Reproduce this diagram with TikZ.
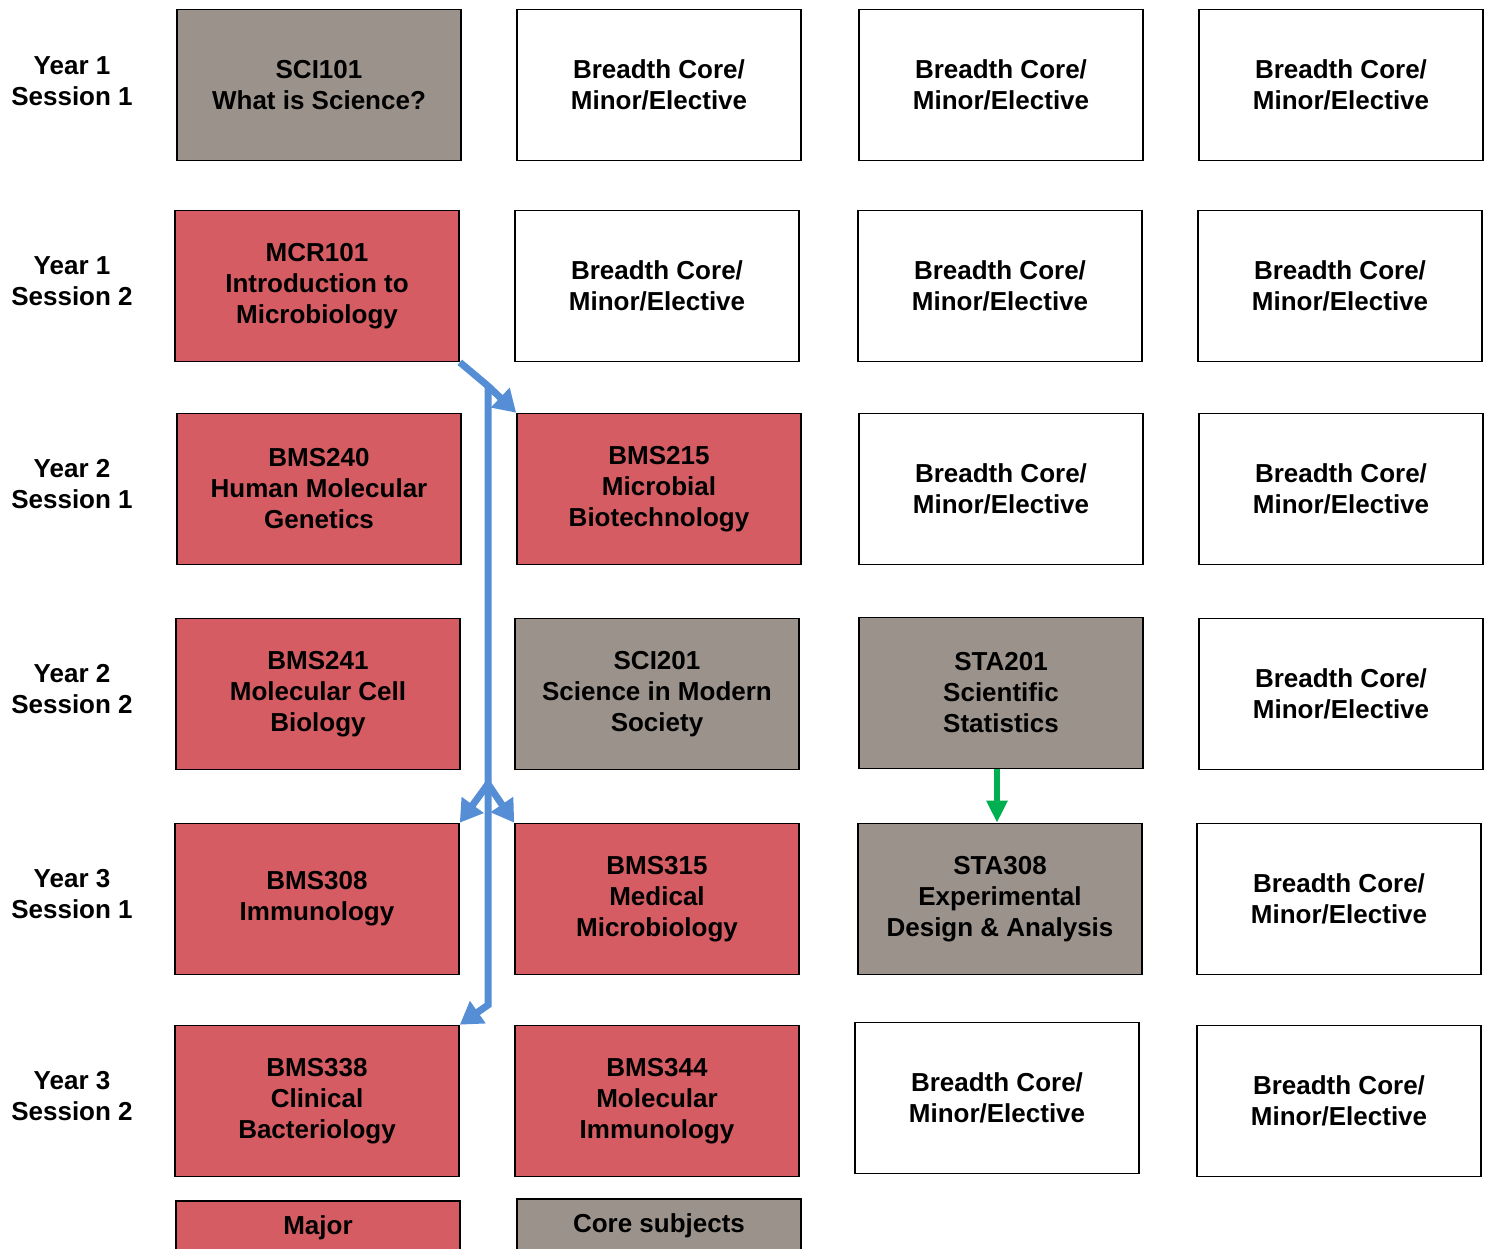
\documentclass[tikz,border=0pt]{standalone}
\usepackage{fontspec}
\setmainfont{Liberation Sans}
\usetikzlibrary{arrows.meta, positioning}
\definecolor{majorred}{RGB}{212,92,98}
\definecolor{coregray}{RGB}{155,147,139}
\definecolor{linkblue}{RGB}{85,142,213}
\definecolor{linkgreen}{RGB}{0,176,80}
\tikzset{rowlabel/.style = {
  align=center,
  font=\bfseries\fontsize{26}{31}\selectfont
  }}
\tikzset{subject/.style = {
  % Rectangle:
  rectangle,
  draw=black, line width=1.6pt,
  minimum width=284pt, minimum height=151pt,
  inner sep=0pt,
  % Text
  align=center,
  font=\bfseries\fontsize{26}{31}\selectfont
  }}
\tikzset{major/.style = {
  subject,
  fill=majorred
  }}
\tikzset{core/.style = {
  subject,
  fill=coregray
  }}
\tikzset{legend/.style = {
  subject,
  minimum height=54pt
  }}
\tikzset{prereq/.style = {
  -{Triangle[width=26pt,length=22pt]},
  line width=7pt,
  draw=linkblue
  }}
\tikzset{seq/.style = {
  -{Triangle[width=20pt,length=22pt]},
  line width=6pt,
  draw=linkgreen
  }}

\begin{document}
\begin{tikzpicture}[x=1pt, y=-1pt]
\useasboundingbox (0,0) rectangle (1488,1249);

% ROW LABELS
\node (y1s1) [rowlabel] at (72,81) {Year 1\\Session 1};
\node (y1s2) [rowlabel] at (72,281) {Year 1\\Session 2};
\node (y2s1) [rowlabel] at (72,484) {Year 2\\Session 1};
\node (y2s2) [rowlabel] at (72,689) {Year 2\\Session 2};
\node (y3s1) [rowlabel] at (72,894) {Year 3\\Session 1};
\node (y3s2) [rowlabel] at (72,1096) {Year 3\\Session 2};

% YEAR 1 SESSION 1
\node (sci101) [core] at (319,85) {SCI101\\What is Science?};
\node (bc11) [subject] at (659,85) {Breadth Core/\\Minor/Elective};
\node (bc12) [subject] at (1001,85) {Breadth Core/\\Minor/Elective};
\node (bc13) [subject] at (1341,85) {Breadth Core/\\Minor/Elective};

% YEAR 1 SESSION 2
\node (mcr101) [major] at (317,286) {MCR101\\Introduction to\\Microbiology};
\node (bc21) [subject] at (657,286) {Breadth Core/\\Minor/Elective};
\node (bc22) [subject] at (1000,286) {Breadth Core/\\Minor/Elective};
\node (bc23) [subject] at (1340,286) {Breadth Core/\\Minor/Elective};

% YEAR 2 SESSION 1
\node (bms240) [major] at (319,489) {BMS240\\Human Molecular\\Genetics};
\node (bms215) [major] at (659,489) {BMS215\\Microbial\\Biotechnology};
\node (bc31) [subject] at (1001,489) {Breadth Core/\\Minor/Elective};
\node (bc32) [subject] at (1341,489) {Breadth Core/\\Minor/Elective};

% YEAR 2 SESSION 2
\node (bms241) [major] at (318,694) {BMS241\\Molecular Cell\\Biology};
\node (sci201) [core] at (657,694) {SCI201\\Science in Modern\\Society};
\node (sta201) [core] at (1001,693) {STA201\\Scientific\\Statistics};
\node (bc41) [subject] at (1341,694) {Breadth Core/\\Minor/Elective};

% YEAR 3 SESSION 1
\node (bms308) [major] at (317,899) {BMS308\\Immunology};
\node (bms315) [major] at (657,899) {BMS315\\Medical\\Microbiology};
\node (sta308) [core] at (1000,899) {STA308\\Experimental\\Design \& Analysis};
\node (bc51) [subject] at (1339,899) {Breadth Core/\\Minor/Elective};

% YEAR 3 SESSION 2
\node (bms338) [major] at (317,1101) {BMS338\\Clinical\\Bacteriology};
\node (bms344) [major] at (657,1101) {BMS344\\Molecular\\Immunology};
\node (bc61) [subject] at (997,1098) {Breadth Core/\\Minor/Elective};
\node (bc62) [subject] at (1339,1101) {Breadth Core/\\Minor/Elective};

% LEGEND
\node (keymajor) [legend, fill=majorred] at (318,1228) {Major};
\node (keycore) [legend, fill=coregray] at (659,1226) {Core subjects};

% arrows
\coordinate (split) at (488,386);
\coordinate (fork) at (488,784);
\coordinate (bend) at (488,1005);
\draw [prereq] (mcr101.south east) -- (split) -- (bms215.north west);
\draw [prereq] (split) -- (bend) -- (bms338.north east);
\draw [prereq] (fork) -- (bms308.north east);
\draw [prereq] (fork) -- (bms315.north west);

\draw [seq] (sta201.south -| 997,0) -- (sta308.north -| 997,0);
\end{tikzpicture}
\end{document}
